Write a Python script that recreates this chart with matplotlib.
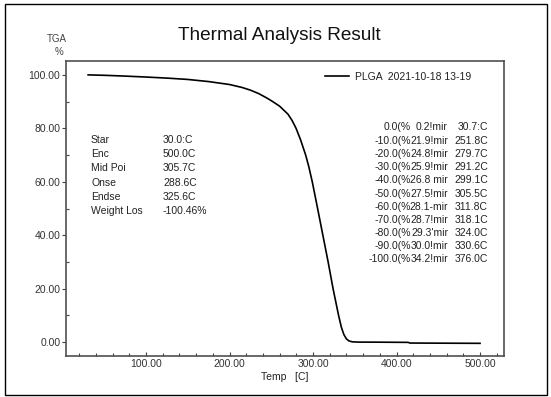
import matplotlib
matplotlib.use("Agg")
import matplotlib.pyplot as plt
from matplotlib.patches import Rectangle
from matplotlib.ticker import MultipleLocator, FormatStrFormatter

plt.rcParams['font.family'] = ['Liberation Sans', 'DejaVu Sans']

# TGA curve (temperature in C, weight in %)
temp = [30.7, 50, 75, 100, 125, 150, 175, 200, 215, 225, 235, 245, 251.8, 260, 270, 275,
        279.7, 285, 291.2, 295, 299.1, 305.5, 311.8, 318.1, 324.0, 330.6, 334, 337,
        340, 343, 347, 355, 376, 414, 416, 500]
weight = [100, 99.85, 99.55, 99.2, 98.8, 98.3, 97.5, 96.4, 95.3, 94.3, 93.0, 91.3, 90.0,
          88.3, 85.3, 82.9, 80.0, 75.8, 70.0, 65.6, 60.0, 50.0, 40.0, 30.0, 20.0, 10.0,
          5.5, 2.8, 1.2, 0.45, 0.1, 0.0, -0.02, -0.1, -0.35, -0.46]

legend_label = 'PLGA  2021-10-18 13-19'

# left result block
res_names = ['Star', 'Enc', 'Mid Poi', 'Onse', 'Endse', 'Weight Los']
res_values = ['30.0:C', '500.0C', '305.7C', '288.6C', '325.6C', '-100.46%']

# right table: weight loss / time / temperature
loss_pct = ['0.0(%', '-10.0(%', '-20.0(%', '-30.0(%', '-40.0(%', '-50.0(%',
            '-60.0(%', '-70.0(%', '-80.0(%', '-90.0(%', '-100.0(%']
loss_time = ['0.2!mir', '21.9!mir', '24.8!mir', '25.9!mir', '26.8 mir', '27.5!mir',
             '28.1-mir', '28.7!mir', '29.3\'mir', '30.0!mir', '34.2!mir']
loss_temp = ['30.7:C', '251.8C', '279.7C', '291.2C', '299.1C', '305.5C',
             '311.8C', '318.1C', '324.0C', '330.6C', '376.0C']

W, H = 551, 397
fig = plt.figure(figsize=(W / 100, H / 100), dpi=100)

def fx(px):
    return px / W

def fy(py):
    return 1 - py / H

# outer frame
fig.patches.append(Rectangle((fx(5), fy(395)), fx(542), 391 / H, transform=fig.transFigure,
                             fill=False, edgecolor='black', linewidth=1.0))

ax = fig.add_axes([fx(66), fy(356), fx(438), 295 / H])
ax.plot(temp, weight, color='black', linewidth=1.2)

ax.set_xlim(4.2, 528.7)
ax.set_ylim(-5.2, 105.2)

ax.xaxis.set_major_locator(MultipleLocator(100))
ax.xaxis.set_minor_locator(MultipleLocator(20))
ax.yaxis.set_major_locator(MultipleLocator(20))
ax.yaxis.set_minor_locator(MultipleLocator(10))
ax.xaxis.set_major_formatter(FormatStrFormatter('%.2f'))
ax.yaxis.set_major_formatter(FormatStrFormatter('%.2f'))
ax.set_xticks([100, 200, 300, 400, 500])

for s in ax.spines.values():
    s.set_color('#505050')
    s.set_linewidth(1.2)

ax.tick_params(axis='x', which='major', direction='in', length=3, width=0.8,
               color='#404040', labelsize=7.5, labelcolor='#333333', pad=2.5)
ax.tick_params(axis='x', which='minor', direction='in', length=2, width=0.8, color='#404040')
ax.tick_params(axis='y', which='major', direction='out', length=3, width=0.8,
               color='#404040', labelsize=7.5, labelcolor='#333333', pad=1)
ax.tick_params(axis='y', which='minor', direction='in', length=2, width=0.8, color='#404040')

ax.set_xlabel('Temp   [C]', fontsize=7.5, color='#222222', labelpad=2)

# legend
ax.legend([legend_label], loc='center left', frameon=False, fontsize=7.5,
          handlelength=2.3, handletextpad=0.55, borderpad=0, borderaxespad=0,
          bbox_to_anchor=(0.591, 0.946), labelcolor='#222222')

fig.text(0.507, fy(36), 'Thermal Analysis Result', ha='center', va='center',
         fontsize=13.7, color='#111111')
fig.text(fx(57), fy(39), 'TGA', ha='center', va='center', fontsize=7, color='#444444')
fig.text(fx(59), fy(52), '%', ha='center', va='center', fontsize=7, color='#444444')

for i in range(len(res_names)):
    y = fy(140 + 14.2 * i)
    fig.text(fx(91), y, res_names[i], ha='left', va='center', fontsize=7.5, color='#222222')
    fig.text(fx(163), y, res_values[i], ha='left', va='center', fontsize=7.5, color='#222222')

for i in range(len(loss_pct)):
    y = fy(127.5 + 13.2 * i)
    fig.text(fx(411), y, loss_pct[i], ha='right', va='center', fontsize=7.5, color='#222222')
    fig.text(fx(448), y, loss_time[i], ha='right', va='center', fontsize=7.5, color='#222222')
    fig.text(fx(488), y, loss_temp[i], ha='right', va='center', fontsize=7.5, color='#222222')

fig.savefig('out.png', dpi=100)
